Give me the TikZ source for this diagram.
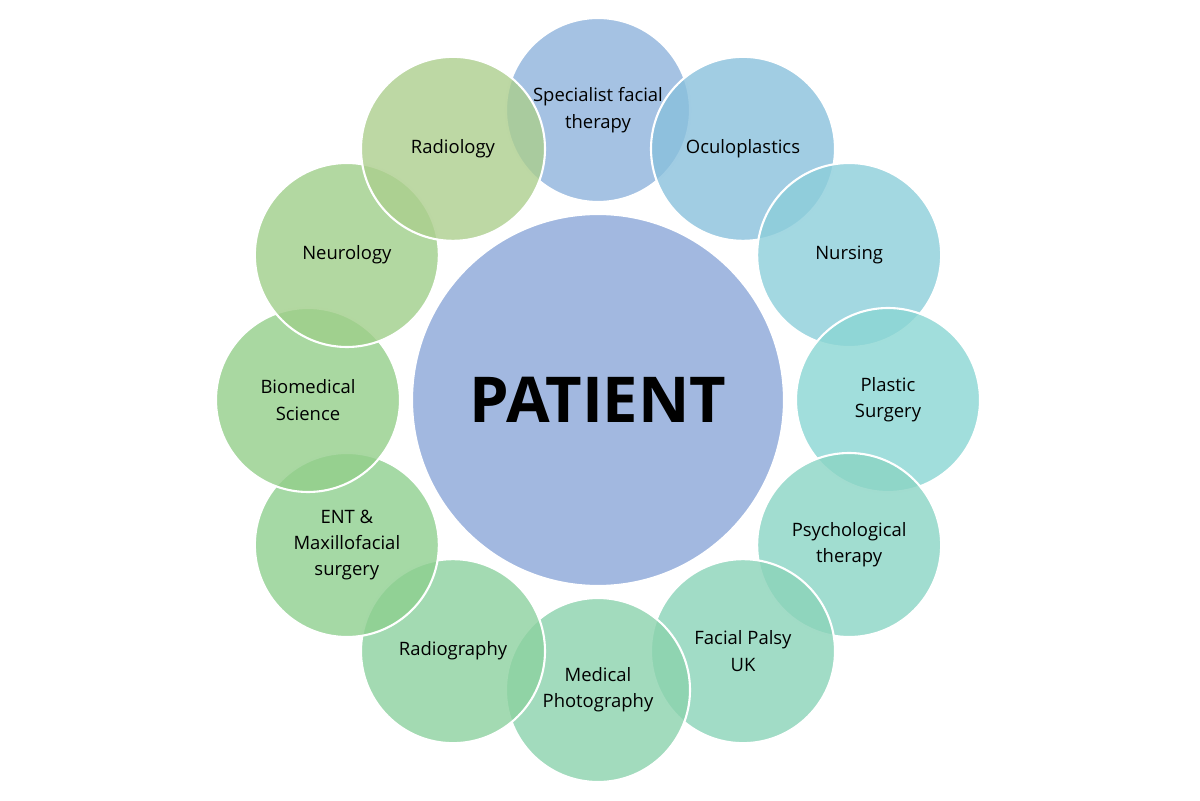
\documentclass[tikz,border=0pt]{standalone}
\usepackage{fontspec}
\setmainfont{Open Sans}
\begin{document}
\begin{tikzpicture}
		\tikzset{disc/.style = {shape=circle, draw=white, line width=1.2pt, fill opacity=0.8, text opacity=1, minimum size=3.68cm, inner sep=0pt, align=center, font=\fontsize{10.5}{15}\selectfont}}

		\useasboundingbox (-11.96,-8) rectangle (12.04,8);

		\definecolor{cA}{HTML}{8EB3DC}
		\definecolor{cB}{HTML}{89C0DC}
		\definecolor{cC}{HTML}{8CCEDA}
		\definecolor{cD}{HTML}{8AD6D3}
		\definecolor{cE}{HTML}{8AD4C4}
		\definecolor{cF}{HTML}{8AD3B8}
		\definecolor{cG}{HTML}{8BD2AD}
		\definecolor{cH}{HTML}{8CD19F}
		\definecolor{cI}{HTML}{8ECF8F}
		\definecolor{cJ}{HTML}{93CE8A}
		\definecolor{cK}{HTML}{9FCE89}
		\definecolor{cL}{HTML}{ACCE8D}
		\definecolor{cP}{HTML}{A2B8E0}

		\node[disc, fill=cA] (S_1) at (90:5.8) {Specialist facial\\therapy};
		\node[disc, fill=cB] (S_2) at (60:5.8) {Oculoplastics};
		\node[disc, fill=cC] (S_3) at (30:5.8) {Nursing};
		\node[disc, fill=cD] (S_4) at (0:5.8) {Plastic\\Surgery};
		\node[disc, fill=cE] (S_5) at (-30:5.8) {Psychological\\therapy};
		\node[disc, fill=cF] (S_6) at (-60:5.8) {Facial Palsy\\UK};
		\node[disc, fill=cG] (S_7) at (-90:5.8) {Medical\\Photography};
		\node[disc, fill=cH] (S_8) at (-120:5.8) {Radiography};
		\node[disc, fill=cI] (S_9) at (-150:5.8) {ENT \&\\Maxillofacial\\surgery};
		\node[disc, fill=cJ] (S_10) at (180:5.8) {Biomedical\\Science};
		\node[disc, fill=cK] (S_11) at (150:5.8) {Neurology};
		\node[disc, fill=cL] (S_12) at (120:5.8) {Radiology};

		\node[shape=circle, draw=white, line width=1.2pt, fill=cP, minimum size=7.44cm, font=\fontsize{36}{44}\bfseries] (P) at (0,0) {PATIENT};

	\end{tikzpicture}
\end{document}
